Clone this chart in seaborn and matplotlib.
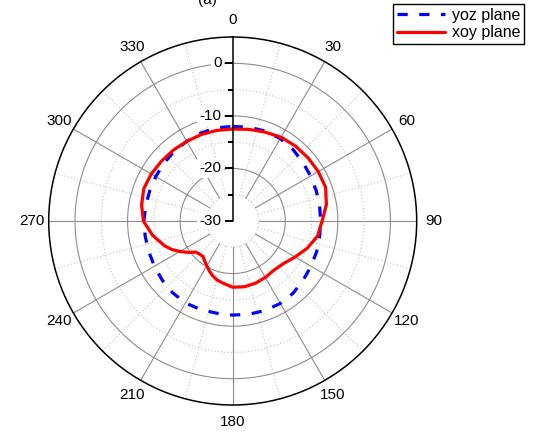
import numpy as np
import pandas as pd
import matplotlib
matplotlib.use("Agg")
import matplotlib.pyplot as plt
import seaborn as sns

# angles (deg) and gain (dB)
ang_yoz = [0, 10, 20, 30, 40, 50, 60, 70, 80, 90, 100, 110, 120, 130, 140, 150, 160, 170,
           180, 190, 200, 210, 220, 230, 240, 250, 260, 270, 280, 290, 300, 310, 320, 330,
           340, 350, 360]
gain_yoz = [-12.0, -11.9, -11.8, -11.9, -12.2, -12.6, -12.9, -13.1, -13.2, -13.3, -13.2,
            -13.0, -12.8, -12.5, -12.1, -11.9, -11.9, -12.0, -12.1, -12.2, -12.1, -12.0,
            -12.2, -12.5, -12.8, -13.0, -13.1, -13.1, -13.2, -13.2, -13.1, -12.9, -12.7,
            -12.5, -12.2, -12.0, -12.0]

ang_xoy = [0, 10, 20, 30, 40, 50, 60, 70, 80, 90, 100, 110, 120, 130, 140, 150, 160, 170,
           180, 190, 195, 200, 205, 210, 215, 220, 225, 230, 235, 240, 245, 250, 260, 270,
           280, 290, 300, 310, 320, 330, 340, 350, 360]
gain_xoy = [-12.5, -12.3, -12.0, -11.6, -11.4, -11.3, -11.2, -11.2, -11.9, -13.0, -13.6,
            -14.9, -16.3, -17.4, -17.8, -17.6, -17.4, -17.3, -17.4, -18.1, -18.4, -18.9,
            -19.5, -20.15, -20.7, -21.2, -21.1, -20.8, -19.6, -18.4, -17.2, -16.2, -14.5,
            -13.0, -12.4, -12.0, -12.1, -12.3, -12.4, -12.5, -12.5, -12.5, -12.5]

theta_ticks = list(range(0, 360, 30))
r_major = [-30, -20, -10, 0]
r_minor = [-25, -15, -5]
r_min, r_max = -30, 5

sns.set_style("white")
plt.rcParams['font.family'] = ['Liberation Sans', 'DejaVu Sans']
plt.rcParams['text.color'] = 'black'
plt.rcParams['xtick.labelcolor'] = 'black'
plt.rcParams['ytick.labelcolor'] = 'black'

df_yoz = pd.DataFrame({"theta": np.radians(ang_yoz), "gain": gain_yoz})
df_xoy = pd.DataFrame({"theta": np.radians(ang_xoy), "gain": gain_xoy})

fig = plt.figure(figsize=(5.33, 4.37), dpi=100)
ax = fig.add_axes([0.0914, 0.0732, 0.6904, 0.8421], projection='polar')
ax.set_theta_zero_location('N')
ax.set_theta_direction(-1)
ax.set_rlim(r_min, r_max)
ax.grid(False)
ax.set_yticks([])

# grid: circles
circ = np.linspace(0, 2 * np.pi, 721)
for r in [-20, -10, 0]:
    ax.plot(circ, np.full_like(circ, r), color='#8c8c8c', lw=0.8, zorder=1)
for r in r_minor:
    ax.plot(circ, np.full_like(circ, r), color='#c4c4c4', lw=0.8, ls=(0, (1, 2)), zorder=1)
# grid: spokes (leave the hole inside -25)
for a in range(0, 360, 15):
    if a == 0:
        continue
    t = np.radians(a)
    if a % 30 == 0:
        ax.plot([t, t], [-25, r_max], color='#8c8c8c', lw=0.8, zorder=1)
    else:
        ax.plot([t, t], [-25, r_max], color='#c4c4c4', lw=0.8, ls=(0, (1, 2)), zorder=1)

# data
sns.lineplot(data=df_yoz, x="theta", y="gain", ax=ax, sort=False, color='#0000ff',
             lw=2.3, linestyle=(0, (3.2, 3.6)), label='yoz plane', zorder=3)
sns.lineplot(data=df_xoy, x="theta", y="gain", ax=ax, sort=False, color='#ff0000',
             lw=2.3, label='xoy plane', zorder=3)
ax.set_xlabel('')
ax.set_ylabel('')
if ax.get_legend() is not None:
    ax.get_legend().remove()

# radial axis along 0 deg
ax.plot([0, 0], [r_min, r_max], color='black', lw=1.1, zorder=4)
for r in r_major:
    ax.plot(0, r, marker=0, ms=6, mew=1.1, color='black', zorder=4)
    ax.annotate(str(r), xy=(0, r), xytext=(-8, 0), textcoords='offset points',
                ha='right', va='center', fontsize=11, color='black', zorder=5,
                bbox=dict(boxstyle='square,pad=0.15', fc='white', ec='none'))
for r in r_minor:
    ax.plot(0, r, marker=0, ms=3.5, mew=1.1, color='black', zorder=4)

# angular ticks
ax.set_xticks(np.radians(theta_ticks))
ax.set_xticklabels([str(a) for a in theta_ticks], fontsize=11, color='black')
ax.tick_params(axis='x', direction='in', length=5, width=1, color='#404040', pad=5)
ax.spines['polar'].set_color('black')
ax.spines['polar'].set_linewidth(1.1)

handles, labels = ax.get_legend_handles_labels()
leg = fig.legend(handles, labels, loc='upper right', bbox_to_anchor=(524 / 533, 1 - 4 / 437),
                 fontsize=11.5, frameon=True, fancybox=False, edgecolor='black', framealpha=1,
                 borderaxespad=0, handlelength=3.0, borderpad=0.25, labelspacing=0.15,
                 handletextpad=0.4)
leg.get_frame().set_linewidth(1.0)
for txt in leg.get_texts():
    txt.set_color('black')

# title is cut off at the top edge in the reference
fig.text(0.39, 1.0, '(a)', ha='center', va='center', fontsize=11, color='black')

fig.savefig("out.png", dpi=100)
